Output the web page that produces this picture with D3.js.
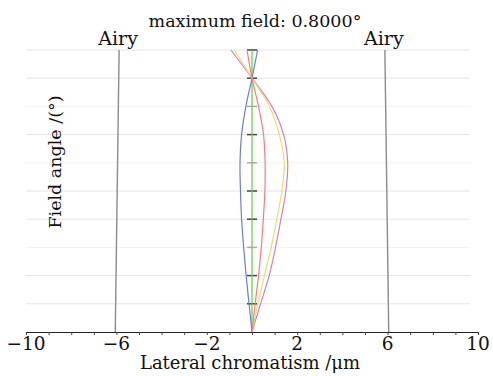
<!DOCTYPE html>
<html>
<head>
<meta charset="utf-8">
<script src="https://cdn.jsdelivr.net/npm/d3@7"></script>
<style>
  body { margin: 0; background: #fff; }
  text { font-family: "DejaVu Serif", serif; fill: #111; }
</style>
</head>
<body>
<svg id="chart" width="493" height="376"></svg>
<script>
// field samples (deg) and lateral colour per wavelength (um)
const fields = [0, 0.08, 0.16, 0.24, 0.32, 0.40, 0.48, 0.56, 0.64, 0.72, 0.80];
const blueVals = [0, -0.13, -0.26, -0.37, -0.46, -0.51, -0.53, -0.46, -0.27, 0.0, 0.25];
const greenVals = [0, 0, 0, 0, 0, 0, 0, 0, 0, 0, 0];
const redVals = [0, 0.14, 0.29, 0.41, 0.50, 0.57, 0.58, 0.51, 0.29, 0.0, -0.22];
const yellowVals = [0, 0.26, 0.55, 0.85, 1.10, 1.32, 1.43, 1.21, 0.77, 0.0, -0.78];
const magentaVals = [0, 0.38, 0.76, 1.04, 1.28, 1.50, 1.58, 1.40, 0.88, 0.0, -0.93];

const airyFields = [0, 0.8];
const airyRadius = [6.05, 5.88];

const xTickLabels = [-10, -6, -2, 2, 6, 10];
const gridFields = [0.08, 0.16, 0.24, 0.32, 0.40, 0.48, 0.56, 0.64, 0.72, 0.80];
const gridDark = [true, true, false, true, true, false, true, false, true, true];

const svg = d3.select('#chart');

const x = d3.scaleLinear().domain([-10, 10]).range([26, 478]);
const y = d3.scaleLinear().domain([0, 0.8]).range([332, 50]);

// horizontal grid
svg.append('g')
  .selectAll('line')
  .data(gridFields)
  .enter()
  .append('line')
  .attr('x1', 26).attr('x2', 470)
  .attr('y1', d => y(d)).attr('y2', d => y(d))
  .attr('stroke', (d, i) => gridDark[i] ? '#e4e4e4' : '#f2f2f2')
  .attr('stroke-width', 1);

// x axis
const xAxis = svg.append('g')
  .attr('transform', 'translate(0,' + y(0) + ')')
  .call(d3.axisBottom(x).ticks(20).tickSize(3).tickFormat(''));
xAxis.select('.domain').attr('stroke', '#222').attr('stroke-width', 1.2);
xAxis.selectAll('.tick line').attr('stroke', '#444');

svg.append('g')
  .selectAll('text')
  .data(xTickLabels)
  .enter()
  .append('text')
  .attr('x', d => x(d))
  .attr('y', 350)
  .attr('text-anchor', 'middle')
  .attr('font-size', 18.5)
  .text(d => d < 0 ? '\u2212' + Math.abs(d) : d);

// Airy lines
const airyPts = airyFields.map((f, i) => ({ f, r: airyRadius[i] }));
[-1, 1].forEach(s => {
  svg.append('path')
    .datum(airyPts)
    .attr('fill', 'none')
    .attr('stroke', '#8c8c8c')
    .attr('stroke-width', 1.4)
    .attr('d', d3.line().x(d => x(s * d.r)).y(d => y(d.f)));
  svg.append('text')
    .attr('x', x(s * airyRadius[1]) - 1)
    .attr('y', 45)
    .attr('text-anchor', 'middle')
    .attr('font-size', 19)
    .text('Airy');
});

// field ticks on the centre line
svg.append('g')
  .selectAll('line')
  .data(gridFields)
  .enter()
  .append('line')
  .attr('x1', x(0) - 5).attr('x2', x(0) + 5)
  .attr('y1', d => y(d)).attr('y2', d => y(d))
  .attr('stroke', (d, i) => gridDark[i] ? '#444' : '#aaa')
  .attr('stroke-width', 1.5);

// curves
const series = [
  { vals: greenVals, color: '#62cc44' },
  { vals: blueVals, color: '#6b7fd4' },
  { vals: magentaVals, color: '#cc80d2' },
  { vals: yellowVals, color: '#e2e268' },
  { vals: redVals, color: '#f77c7c' }
];
const line = d3.line()
  .x(d => x(d[1]))
  .y(d => y(d[0]))
  .curve(d3.curveCatmullRom);
series.forEach(s => {
  svg.append('path')
    .datum(fields.map((f, i) => [f, s.vals[i]]))
    .attr('fill', 'none')
    .attr('stroke', s.color)
    .attr('stroke-width', 1.2)
    .attr('d', line);
});

// titles
svg.append('text')
  .attr('x', 255).attr('y', 27)
  .attr('text-anchor', 'middle')
  .attr('font-size', 17.5)
  .text('maximum field: 0.8000\u00b0');

svg.append('text')
  .attr('x', 250).attr('y', 369)
  .attr('text-anchor', 'middle')
  .attr('font-size', 18)
  .text('Lateral chromatism /\u03bcm');

svg.append('text')
  .attr('transform', 'translate(61,162) rotate(-90)')
  .attr('text-anchor', 'middle')
  .attr('font-size', 17.5)
  .text('Field angle /(\u00b0)');
</script>
</body>
</html>
